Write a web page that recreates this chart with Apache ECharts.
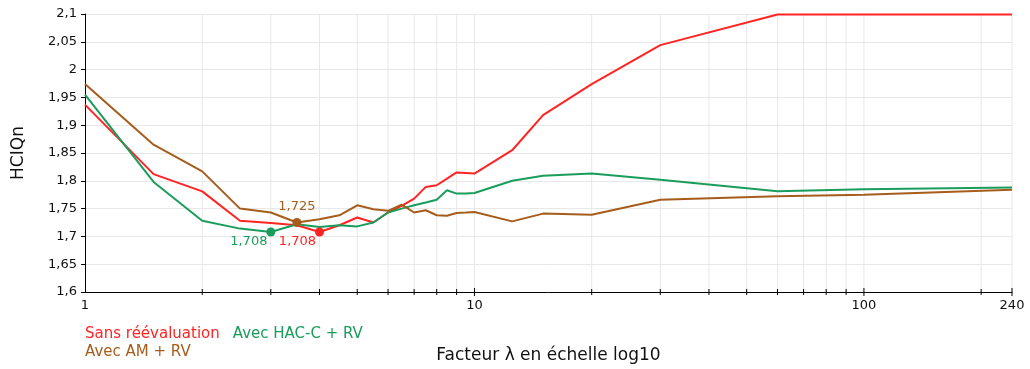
<!DOCTYPE html>
<html>
<head>
<meta charset="utf-8">
<script src="https://cdn.jsdelivr.net/npm/echarts@6/dist/echarts.min.js"></script>
<style>
  html, body { margin: 0; padding: 0; background: #fff; }
  #chart { width: 1030px; height: 369px; }
</style>
</head>
<body>
<div id="chart"></div>
<script>
// Scale factor λ (x values, log axis)
const lambdas = [1, 1.5, 2, 2.5, 3, 3.5, 4, 4.5, 5, 5.5, 6, 6.5, 7, 7.5, 8, 8.5, 9, 9.5, 10, 12.5, 15, 20, 30, 60, 100, 240];

// HCIQn for each method
const sansReevaluation = [1.937, 1.812, 1.781, 1.728, 1.724, 1.720, 1.708, 1.720, 1.734, 1.725, 1.743, 1.755, 1.768, 1.789, 1.792, 1.804, 1.815, 1.814, 1.813, 1.855, 1.918, 1.974, 2.044, 2.099, 2.099, 2.099];
const avecHacC = [1.955, 1.798, 1.728, 1.714, 1.708, 1.722, 1.717, 1.720, 1.718, 1.725, 1.743, 1.750, 1.756, 1.761, 1.766, 1.783, 1.777, 1.777, 1.778, 1.800, 1.809, 1.813, 1.802, 1.781, 1.785, 1.788];
const avecAm = [1.974, 1.865, 1.817, 1.750, 1.743, 1.725, 1.731, 1.738, 1.756, 1.749, 1.746, 1.757, 1.743, 1.747, 1.738, 1.737, 1.742, 1.743, 1.744, 1.727, 1.741, 1.739, 1.766, 1.772, 1.775, 1.784];

// Highlighted minima (index into lambdas)
const minRedIdx = 6;    // λ = 4
const minGreenIdx = 4;  // λ = 3
const minBrownIdx = 5;  // λ = 3.5

// Vertical grid / tick positions on the log axis
const gridValues = [2, 3, 4, 5, 6, 7, 8, 9, 10, 20, 30, 40, 50, 60, 70, 80, 90, 100, 200, 240];
const majorTicks = [10, 100, 240];

const names = ['Sans réévaluation', 'Avec HAC-C + RV', 'Avec AM + RV'];
const colors = ['#ff2424', '#1a9d5c', '#a65d1c'];

const Y_MIN = 1.6, Y_MAX = 2.1;
const FONT = 'DejaVu Sans, Verdana, sans-serif';

const fmt = v => Number(Number(v).toFixed(3)).toString().replace('.', ',');
const pairs = vals => lambdas.map((x, i) => [x, vals[i]]);

function dot(vals, idx, color, offset) {
  return {
    symbol: 'circle',
    symbolSize: 9,
    itemStyle: { color: color },
    label: {
      show: true, position: 'inside', offset: offset,
      color: color, fontSize: 13, fontFamily: FONT,
      formatter: p => fmt(p.value)
    },
    data: [{ coord: [lambdas[idx], vals[idx]], value: vals[idx] }]
  };
}

function lineSeries(name, vals, color, mp) {
  return {
    name: name, type: 'line', data: pairs(vals),
    showSymbol: false, symbol: 'none', z: 3,
    lineStyle: { color: color, width: 2 },
    itemStyle: { color: color },
    emphasis: { disabled: true },
    markPoint: mp
  };
}

const chart = echarts.init(document.getElementById('chart'), null, { renderer: 'canvas' });
chart.setOption({
  animation: false,
  backgroundColor: '#fff',
  grid: { left: 85, right: 18, top: 14, bottom: 69 },
  legend: [
    {
      left: 74, top: 322, itemGap: 7, itemWidth: 0, itemHeight: 0, selectedMode: false,
      textStyle: { fontSize: 15, fontFamily: FONT },
      data: [
        { name: names[0], textStyle: { color: colors[0] } },
        { name: names[1], textStyle: { color: colors[1] } }
      ]
    },
    {
      left: 74, top: 340, itemWidth: 0, itemHeight: 0, selectedMode: false,
      textStyle: { fontSize: 15, fontFamily: FONT },
      data: [{ name: names[2], textStyle: { color: colors[2] } }]
    }
  ],
  xAxis: {
    type: 'log', logBase: 10, min: 1, max: 240,
    name: 'Facteur λ en échelle log10',
    nameLocation: 'middle', nameGap: 55,
    nameTextStyle: { fontSize: 17, fontFamily: FONT, color: '#111' },
    axisLine: { lineStyle: { color: '#000', width: 1 } },
    axisTick: { show: false },
    splitLine: { show: false },
    axisLabel: { color: '#111', fontSize: 13, fontFamily: FONT, margin: 7, showMaxLabel: true }
  },
  yAxis: {
    type: 'value', min: Y_MIN, max: Y_MAX, interval: 0.05,
    name: 'HCIQn', nameLocation: 'middle', nameGap: 58,
    nameTextStyle: { fontSize: 17, fontFamily: FONT, color: '#111' },
    axisLine: { show: true, lineStyle: { color: '#000', width: 1 } },
    axisTick: { show: true, length: 4, lineStyle: { color: '#000' } },
    splitLine: { show: true, lineStyle: { color: '#e8e8e8', width: 1 } },
    axisLabel: { color: '#111', fontSize: 13, fontFamily: FONT, margin: 8, formatter: fmt }
  },
  series: [
    {
      type: 'custom', name: 'grid', silent: true, clip: false, z: 1,
      data: gridValues.map(v => [v, Y_MIN]),
      encode: { x: 0, y: 1 },
      renderItem: function (params, api) {
        const v = api.value(0);
        const p0 = api.coord([v, Y_MIN]);
        const p1 = api.coord([v, Y_MAX]);
        const h = majorTicks.indexOf(v) >= 0 ? 4 : 3;
        return {
          type: 'group',
          children: [
            { type: 'line', shape: { x1: p0[0], y1: p0[1], x2: p1[0], y2: p1[1] },
              style: { stroke: '#e8e8e8', lineWidth: 1 } },
            { type: 'line', shape: { x1: p0[0], y1: p0[1] - h, x2: p0[0], y2: p0[1] + h },
              style: { stroke: '#000', lineWidth: 1 }, z2: 10 }
          ]
        };
      }
    },
    lineSeries(names[0], sansReevaluation, colors[0], dot(sansReevaluation, minRedIdx, colors[0], [-22, 10])),
    lineSeries(names[1], avecHacC, colors[1], dot(avecHacC, minGreenIdx, colors[1], [-22, 10])),
    lineSeries(names[2], avecAm, colors[2], dot(avecAm, minBrownIdx, colors[2], [0, -16]))
  ]
});
</script>
</body>
</html>
